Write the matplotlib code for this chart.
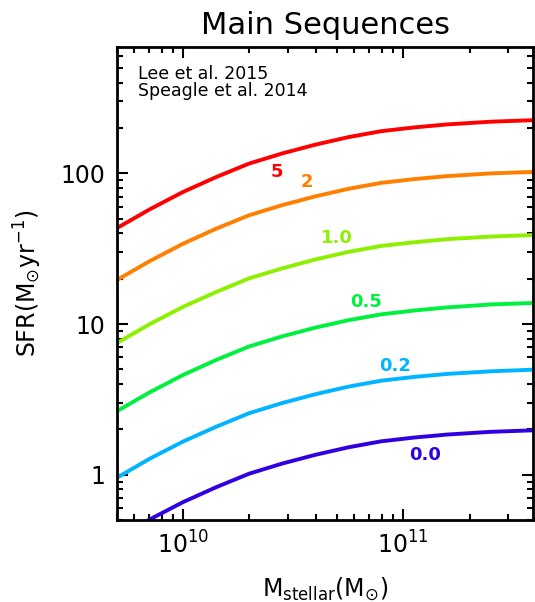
import matplotlib.pyplot as plt
import numpy as np

# stellar mass samples (log10 Msun)
log_mass = [9.7, 9.85, 10.0, 10.15, 10.3, 10.45, 10.6, 10.75, 10.9, 11.05, 11.2, 11.4, 11.59]

# SFR (Msun/yr) for each redshift
sfr_z5 = [43.3, 57.8, 75.2, 94.4, 116.1, 135.5, 154.9, 173.8, 190.5, 201.8, 211.3, 220.3, 225.4]
sfr_z2 = [19.6, 26.2, 34.1, 42.9, 52.7, 61.5, 70.3, 78.9, 86.5, 91.6, 95.9, 100.0, 102.3]
sfr_z1 = [7.48, 10.0, 13.0, 16.3, 20.1, 23.4, 26.8, 30.1, 33.0, 34.9, 36.6, 38.1, 39.0]
sfr_z05 = [2.64, 3.53, 4.59, 5.77, 7.10, 8.28, 9.46, 10.6, 11.6, 12.3, 12.9, 13.5, 13.8]
sfr_z02 = [0.955, 1.28, 1.66, 2.08, 2.56, 2.99, 3.42, 3.84, 4.21, 4.46, 4.67, 4.86, 4.98]
sfr_z0 = [0.378, 0.506, 0.658, 0.826, 1.016, 1.186, 1.355, 1.52, 1.667, 1.766, 1.849, 1.928, 1.972]

series = [sfr_z5, sfr_z2, sfr_z1, sfr_z05, sfr_z02, sfr_z0]
labels = ['5', '2', '1.0', '0.5', '0.2', '0.0']
colors = ['#ff0000', '#ff8000', '#8cf000', '#00f040', '#00b4ff', '#3000e0']
# label positions in axes fraction
label_pos = [(0.384, 0.736), (0.456, 0.715), (0.529, 0.596),
             (0.598, 0.4615), (0.668, 0.326), (0.740, 0.137)]

fig = plt.figure(figsize=(5.35, 6.02), dpi=100)
ax = fig.add_axes([0.218, 0.136, 0.779, 0.786])

mass = 10 ** np.array(log_mass)
for sfr, c in zip(series, colors):
    ax.plot(mass, sfr, color=c, lw=2.8, solid_capstyle='butt')

for lab, (px, py), c in zip(labels, label_pos, colors):
    ax.text(px, py, lab, color=c, transform=ax.transAxes, fontsize=13,
            fontweight='bold', ha='center', va='center')

ax.set_xscale('log')
ax.set_yscale('log')
ax.set_xlim(5e9, 3.9e11)
ax.set_ylim(0.5, 690)

ax.set_yticks([1, 10, 100])
ax.set_yticklabels(['1', '10', '100'])

ax.tick_params(which='both', direction='in', top=True, right=True,
               labelsize=17, width=1.5)
ax.tick_params(which='major', length=8, pad=8)
ax.tick_params(which='minor', length=4)
for s in ax.spines.values():
    s.set_linewidth(2)

ax.set_title('Main Sequences', fontsize=22, pad=9)
ax.set_xlabel(r'M$_{\rm stellar}$(M$_{\odot}$)', fontsize=17, labelpad=12)
ax.set_ylabel(r'SFR(M$_{\odot}$yr$^{-1}$)', fontsize=17, labelpad=12)

ax.text(0.051, 0.943, 'Lee et al. 2015', transform=ax.transAxes,
        fontsize=12.5, va='center')
ax.text(0.051, 0.907, 'Speagle et al. 2014', transform=ax.transAxes,
        fontsize=12.5, va='center')

fig.savefig('out.png', dpi=100)
